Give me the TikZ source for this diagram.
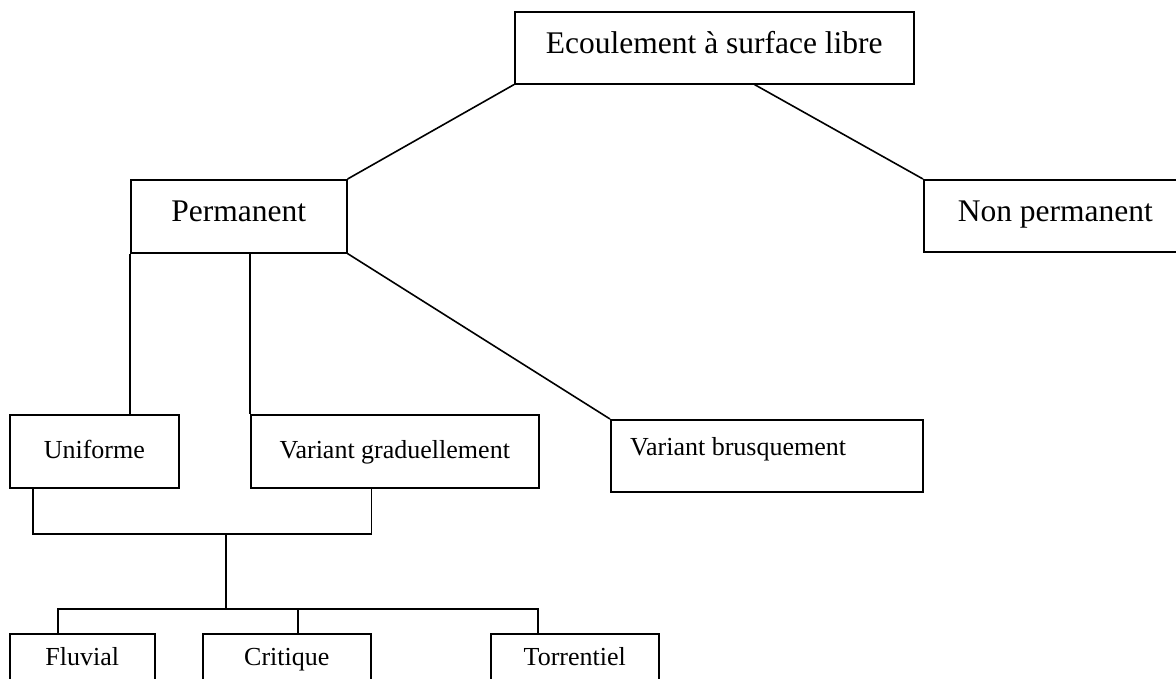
\documentclass[tikz,border=0pt]{standalone}
\usepackage{fontspec}
\setmainfont{Liberation Serif}

\tikzset{
	box/.style={draw, line width=1.6pt, inner sep=0pt, anchor=north west},
	bigbox/.style={box, font=\fontsize{31.5}{36}\selectfont, text depth=10pt},
	smallbox/.style={box, font=\fontsize{26}{30}\selectfont, text depth=4pt},
	link/.style={line width=1.6pt}
}

\begin{document}
\begin{tikzpicture}[x=1pt, y=-1pt]
			\path[use as bounding box, fill=white] (0,0) rectangle (1176,679);
			\clip (0,0) rectangle (1176,679);
			% main box
			\node[bigbox, minimum width=399pt, minimum height=72pt] (ecoul) at (514,11) {Ecoulement à surface libre};
			% second level
			\node[bigbox, minimum width=216pt, minimum height=73pt] (perm) at (130,179) {Permanent};
			\node[bigbox, minimum width=263pt, minimum height=72pt] (nonperm) at (923,179) {Non permanent};
			% third level
			\node[smallbox, minimum width=169pt, minimum height=73pt] (unif) at (9,414) {Uniforme};
			\node[smallbox, minimum width=288pt, minimum height=73pt] (vgrad) at (250,414) {Variant graduellement};
			\node[smallbox, minimum width=312pt, minimum height=72pt] (vbrus) at (610,419) {};
			\node[font=\fontsize{26}{30}\selectfont, inner sep=0pt, anchor=base west] (vbtext) at (630,455) {Variant brusquement};
			% fourth level
			\node[smallbox, minimum width=145pt, minimum height=50pt] (fluv) at (9,633) {Fluvial};
			\node[smallbox, minimum width=168pt, minimum height=50pt] (crit) at (202,633) {Critique};
			\node[smallbox, minimum width=168pt, minimum height=50pt] (torr) at (490,633) {Torrentiel};
			% links from the main box
			\draw[link] (ecoul.south west) -- (perm.north east);
			\draw[link] ([xshift=-160pt]ecoul.south east) -- (nonperm.north west);
			% links from permanent
			\draw[link] (perm.south west) -- (perm.south west |- unif.north);
			\draw[link] (vgrad.north west |- perm.south) -- (vgrad.north west);
			\draw[link] (perm.south east) -- (vbrus.north west);
			% bracket under uniforme and variant graduellement
			\coordinate (join) at (226,534);
			\coordinate (fork) at (226,609);
			\draw[link] ([xshift=24pt]unif.south west) |- (join) -| ([xshift=-168pt]vgrad.south east);
			\draw[link] (join) -- (fork);
			% fork to the regimes
			\draw[link] ([xshift=49pt]fluv.north west) |- (fork) -| ([xshift=48pt]torr.north west);
			\draw[link] ([xshift=96pt]crit.north west) -- ([xshift=96pt]crit.north west |- fork);
\end{tikzpicture}
\end{document}
